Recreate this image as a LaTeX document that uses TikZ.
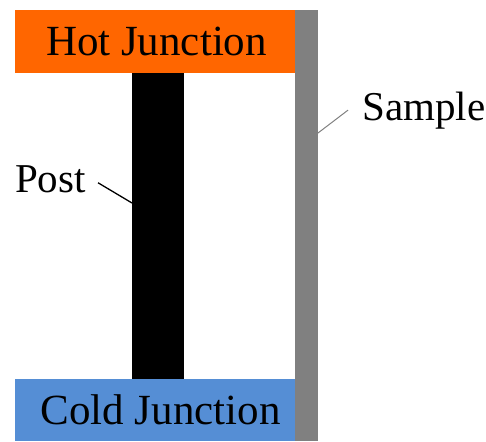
\documentclass[tikz,border=0pt]{standalone}
\usepackage{fontspec}
\setmainfont{Liberation Serif}
\definecolor{hotorange}{HTML}{FF6600}
\definecolor{coldblue}{HTML}{558ED5}
\definecolor{samplegray}{HTML}{808080}
\begin{document}
\begin{tikzpicture}[x=1pt,y=-1pt,
  block/.style={anchor=north west, inner sep=0pt, outer sep=0pt, draw=none},
  lbl/.style={inner sep=0pt, font=\fontsize{41}{48}\selectfont, text=black},
  jlbl/.style={inner sep=0pt, font=\fontsize{43}{50}\selectfont, text=black},
  leader/.style={line width=1.3pt}]
\useasboundingbox (0,0) rectangle (486,441);
\node[block, fill=samplegray, minimum width=23pt, minimum height=431pt] (bar) at (295,10) {};
\node[block, fill=black, minimum width=52pt, minimum height=306pt] (post) at (132,73) {};
\node[block, fill=hotorange, minimum width=280pt, minimum height=63pt, jlbl] (hot) at (15,10) {\hspace{3pt}Hot Junction};
\node[block, fill=coldblue, minimum width=280pt, minimum height=62pt, jlbl] (cold) at (15,379) {\hspace{11pt}Cold Junction};
\node[lbl, anchor=base west] (samplelabel) at (362,120) {Sample};
\node[lbl, anchor=base west] (postlabel) at (15,192) {Post};
\draw[leader, samplegray, line width=1pt] ([xshift=-14pt]samplelabel.west) -- ([yshift=92.5pt]bar.east);
\draw[leader] ([shift={(12pt,-4pt)}]postlabel.east) -- ([yshift=23pt]post.west);
\end{tikzpicture}
\end{document}
